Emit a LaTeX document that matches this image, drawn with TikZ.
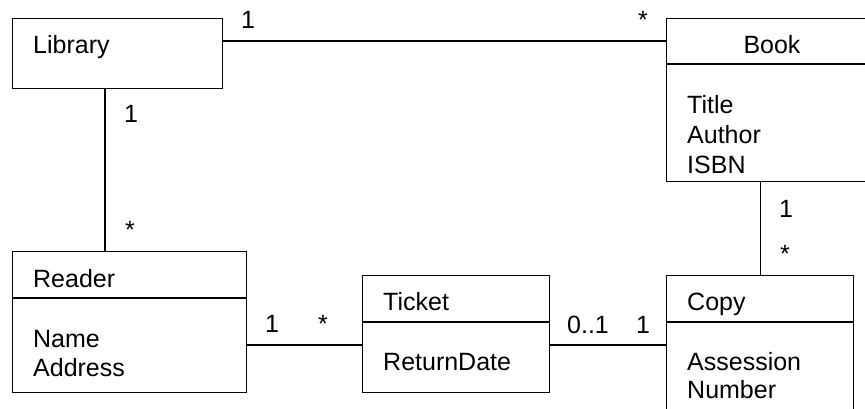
\documentclass[tikz,border=0pt]{standalone}
\usepackage{fontspec}
\setmainfont{Liberation Sans}
\usepackage{tikz}

\tikzset{
  classbox/.style = {draw, line width=1.3pt, anchor=north west, inner sep=0pt},
  txt/.style      = {anchor=base west, inner sep=0pt, font=\fontsize{25}{30}\selectfont},
  mult/.style     = {anchor=base, inner sep=0pt, font=\fontsize{25}{30}\selectfont},
  link/.style     = {line width=1.3pt}
}

\begin{document}
\begin{tikzpicture}[x=1pt, y=-1pt]
    \useasboundingbox (0,0) rectangle (865,408);
    % classes
    \node[classbox, minimum width=210pt, minimum height=70pt]  (library) at (12,18)  {};
    \node[classbox, minimum width=212pt, minimum height=163pt] (book)    at (666,18) {};
    \node[classbox, minimum width=234pt, minimum height=141pt] (reader)  at (12,251) {};
    \node[classbox, minimum width=187pt, minimum height=117pt] (ticket)  at (362,275) {};
    \node[classbox, minimum width=187pt, minimum height=140pt] (copy)    at (666,275) {};
    % compartments
    \draw[link] (book.west |- 0,64)    -- (book.east |- 0,64);
    \draw[link] (reader.west |- 0,298) -- (reader.east |- 0,298);
    \draw[link] (ticket.west |- 0,322) -- (ticket.east |- 0,322);
    \draw[link] (copy.west |- 0,322)   -- (copy.east |- 0,322);
    % names and attributes
    \node[txt] (library-name) at (33,53) {Library};
    \node[mult] (book-name) at (772,53) {Book};
    \foreach \t [count=\i] in {Title,Author,ISBN}
        \node[txt] (book-\i) at (687,83+30*\i) {\t};
    \node[txt] (reader-name) at (33,287) {Reader};
    \foreach \t [count=\i] in {Name,Address}
        \node[txt] (reader-\i) at (33,318+29*\i) {\t};
    \node[txt] (ticket-name) at (383,310) {Ticket};
    \node[txt] (ticket-1) at (383,370) {ReturnDate};
    \node[txt] (copy-name) at (687,310) {Copy};
    \foreach \t [count=\i] in {Assession,Number}
        \node[txt] (copy-\i) at (687,342+28*\i) {\t};
    % associations
    \coordinate (lb) at (0,41);
    \coordinate (lr) at (105,0);
    \coordinate (rc) at (0,345);
    \draw[link] (library.east |- lb) -- (book.west |- lb);
    \draw[link] (library.south -| lr) -- (reader.north -| lr);
    \draw[link] (copy.north) -- (copy.north |- book.south);
    \draw[link] (reader.east |- rc) -- (ticket.west |- rc);
    \draw[link] (ticket.east |- rc) -- (copy.west |- rc);
    % multiplicities
    \node[mult] (m-lb1) at (248,28)  {1};
    \node[mult] (m-lb2) at (643,28)  {*};
    \node[mult] (m-lr1) at (131,122) {1};
    \node[mult] (m-lr2) at (130,238) {*};
    \node[mult] (m-bc1) at (786,217) {1};
    \node[mult] (m-bc2) at (785,262) {*};
    \node[mult] (m-rt1) at (272,332) {1};
    \node[mult] (m-rt2) at (323,332) {*};
    \node[mult] (m-tc1) at (588,333) {0..1};
    \node[mult] (m-tc2) at (643,333) {1};
\end{tikzpicture}
\end{document}
